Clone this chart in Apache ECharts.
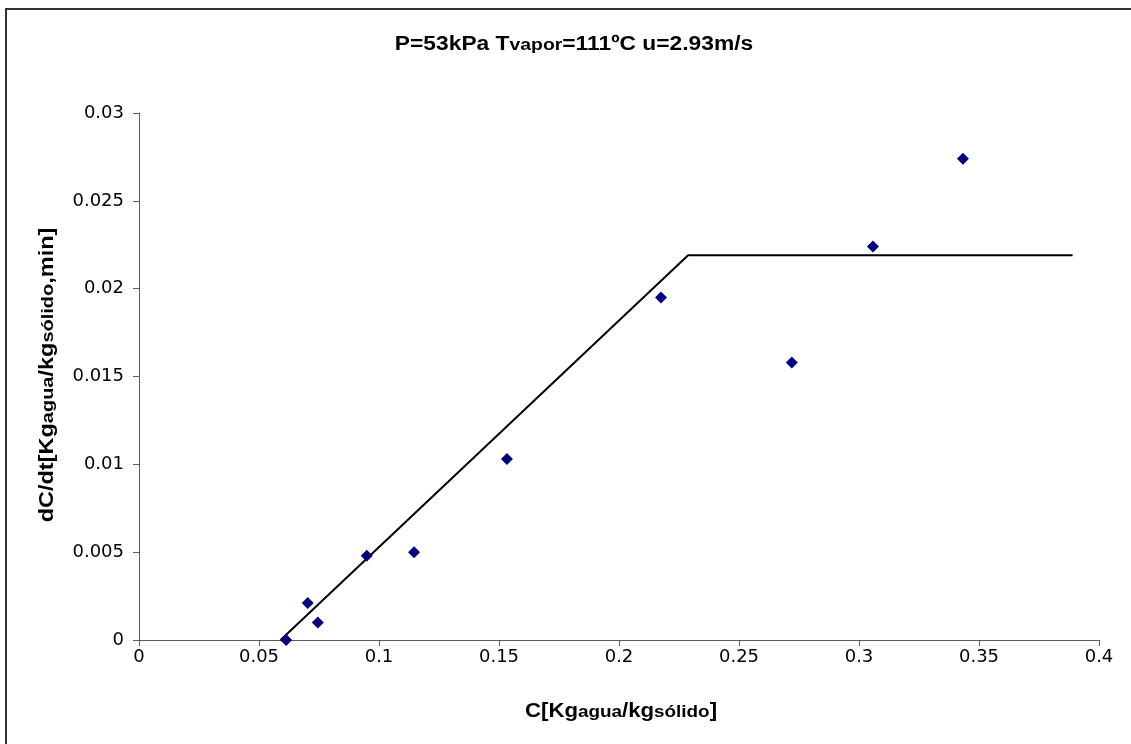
<!DOCTYPE html>
<html>
<head>
<meta charset="utf-8">
<script src="https://cdn.jsdelivr.net/npm/echarts@6/dist/echarts.min.js"></script>
<style>html,body{margin:0;padding:0;background:#fff}#c{width:1131px;height:744px}</style>
</head>
<body>
<div id="c"></div>
<script>
// Measured points: C [kg agua/kg sólido], dC/dt
const pointsX = [0.0613, 0.0703, 0.0745, 0.0949, 0.1146, 0.1533, 0.2175, 0.2720, 0.3058, 0.3433];
const pointsY = [0.0000, 0.0021, 0.0010, 0.0048, 0.0050, 0.0103, 0.0195, 0.0158, 0.0224, 0.0274];
// Fitted model line (vertices)
const fitX = [0.0590, 0.2288, 0.3890];
const fitY = [0.0000, 0.0219, 0.0219];
const xTicks = [0, 0.05, 0.1, 0.15, 0.2, 0.25, 0.3, 0.35, 0.4];
const yTicks = [0, 0.005, 0.01, 0.015, 0.02, 0.025, 0.03];
const titleText = '{b|P=53kPa T}{s|vapor}{b|=111ºC u=2.93m/s}';
const xName = '{b|C[Kg}{s|agua}{b|/kg}{s|sólido}{b|]}';
const yName = '{b|dC/dt[Kg}{s|agua}{b|/kg}{s|sólido}{b|,min]}';

const chart = echarts.init(document.getElementById('c'), null, {renderer: 'canvas'});
const FONT = '"Liberation Sans", Arial, sans-serif';
const TICKFONT = '"DejaVu Sans", sans-serif';
const tickFmt = v => String(+v.toFixed(3));
const rich = {
  b: {fontFamily: FONT, fontWeight: 'bold', fontSize: 20, fill: '#000', color: '#000', verticalAlign: 'bottom'},
  s: {fontFamily: FONT, fontWeight: 'bold', fontSize: 17, fill: '#000', color: '#000', verticalAlign: 'bottom'}
};
function label(text, x, y, rot, sx) {
  return {
    type: 'text', x: x, y: y, rotation: rot, scaleX: sx, silent: true, z: 10,
    style: {text: text, rich: rich, align: 'center', verticalAlign: 'middle', fill: '#000'}
  };
}

chart.setOption({
  animation: false,
  backgroundColor: '#ffffff',
  grid: {left: 139, right: 32, top: 113, bottom: 104, containLabel: false},
  xAxis: {
    type: 'value', min: 0, max: 0.4, interval: 0.05,
    axisLine: {onZero: false, lineStyle: {color: '#5a5a5a', width: 1}},
    axisTick: {show: true, inside: false, length: 6, lineStyle: {color: '#5a5a5a'}},
    axisLabel: {fontFamily: TICKFONT, fontSize: 18, color: '#000', margin: 8, formatter: tickFmt},
    splitLine: {show: false}
  },
  yAxis: {
    type: 'value', min: 0, max: 0.03, interval: 0.005,
    axisLine: {show: true, onZero: false, lineStyle: {color: '#5a5a5a', width: 1}},
    axisTick: {show: true, inside: false, length: 6, lineStyle: {color: '#5a5a5a'}},
    axisLabel: {fontFamily: TICKFONT, fontSize: 18, color: '#000', margin: 15, formatter: tickFmt},
    splitLine: {show: false}
  },
  graphic: [
    {
      type: 'rect', silent: true, z: -1,
      shape: {x: 6, y: 9, width: 1200, height: 800},
      style: {fill: 'none', stroke: '#333', lineWidth: 2}
    },
    label(titleText, 574, 44, 0, 1.14),
    label(xName, 621, 711, 0, 1.11),
    label(yName, 47, 375, Math.PI / 2, 1.175)
  ],
  series: [
    {
      type: 'line', data: fitX.map((x, i) => [x, fitY[i]]),
      symbol: 'none', lineStyle: {color: '#000', width: 2}, z: 2
    },
    {
      type: 'scatter', data: pointsX.map((x, i) => [x, pointsY[i]]),
      symbol: 'diamond', symbolSize: 12, itemStyle: {color: '#000080', opacity: 1}, z: 3
    }
  ]
});
</script>
</body>
</html>
